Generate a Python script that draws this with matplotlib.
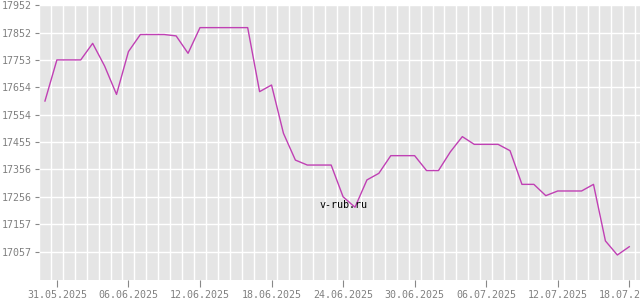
import numpy as np
import pandas as pd
import matplotlib
matplotlib.use("Agg")
import matplotlib.pyplot as plt
import matplotlib.dates as mdates

# daily values, 30.05.2025 - 18.07.2025
dates = pd.date_range("2025-05-30", "2025-07-18", freq="D")
values = [
    17604, 17753, 17753, 17753, 17813, 17731, 17628, 17783, 17845, 17845,
    17845, 17840, 17777, 17870, 17870, 17870, 17870, 17870, 17638, 17662,
    17487, 17390, 17372, 17372, 17372, 17257, 17219, 17318, 17342, 17406,
    17406, 17406, 17352, 17352, 17420, 17475, 17447, 17447, 17447, 17424,
    17302, 17302, 17261, 17278, 17278, 17278, 17302, 17097, 17046, 17076,
]

y_ticks = [17952, 17852, 17753, 17654, 17554, 17455, 17356, 17256, 17157, 17057]
x_ticks = ["2025-05-31", "2025-06-06", "2025-06-12", "2025-06-18", "2025-06-24",
           "2025-06-30", "2025-07-06", "2025-07-12", "2025-07-18"]

fig = plt.figure(figsize=(6.4, 3.0), dpi=100)
ax = fig.add_axes([39 / 640, 20 / 300, 601 / 640, 275 / 300])
ax.set_facecolor("#e5e5e5")
for s in ax.spines.values():
    s.set_visible(False)

ax.plot(dates, values, color="#c040b4", lw=1.0, zorder=3)

# limits
d0 = mdates.date2num(pd.Timestamp("2025-05-31"))
ax.set_xlim(d0 - 1.36, d0 + 48.9)
ax.set_ylim(16955.4, 17952)

# y axis
ax.set_yticks(y_ticks)
ax.set_yticklabels([str(v) for v in y_ticks])
ax.grid(axis="y", which="major", color="white", lw=1.0)

# x axis: labelled ticks every 6 days, grid lines at mid-day
ax.set_xticks([mdates.date2num(pd.Timestamp(t)) for t in x_ticks])
ax.xaxis.set_major_formatter(mdates.DateFormatter("%d.%m.%Y"))
mids = [mdates.date2num(d) - 0.5 for d in dates] + [mdates.date2num(dates[-1]) + 0.5]
ax.set_xticks(mids, minor=True)
ax.grid(axis="x", which="minor", color="white", lw=1.0)
ax.tick_params(axis="x", which="minor", length=0)
ax.set_axisbelow(True)

mono = ["DejaVu Sans Mono"]
ax.tick_params(axis="both", which="major", colors="#888888", labelcolor="#808080",
               labelsize=7.2, width=0.8)
ax.tick_params(axis="y", length=3, pad=2)
ax.tick_params(axis="x", length=5, pad=2)
for lab in ax.get_xticklabels() + ax.get_yticklabels():
    lab.set_family(mono)

fig.text(343.7 / 640, 1 - 205.5 / 300, "v-rub.ru", family=mono, fontsize=7.2,
         color="black", ha="center", va="center")

fig.savefig("out.png", dpi=100)
